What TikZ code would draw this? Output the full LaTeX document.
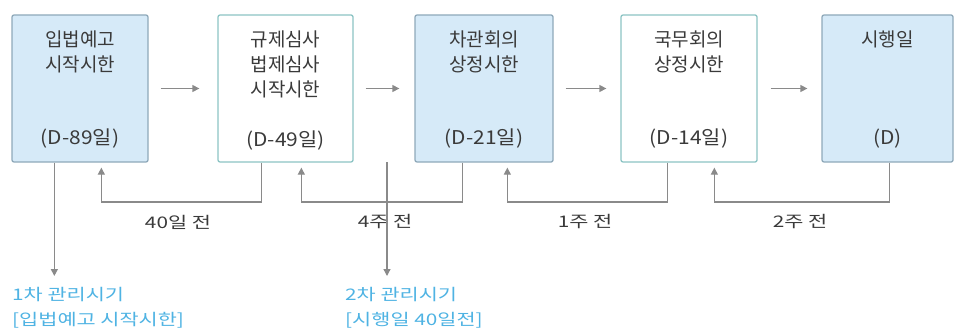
\documentclass[tikz,border=0pt]{standalone}
\usepackage{fontspec}
\setmainfont{Noto Sans CJK KR}
\usetikzlibrary{arrows.meta,positioning,calc}
\definecolor{boxblue}{HTML}{D6EAF8}
\definecolor{edgeblue}{HTML}{8FA9BA}
\definecolor{edgeteal}{HTML}{8CC4C4}
\definecolor{linegray}{HTML}{8A8A8A}
\definecolor{txtgray}{HTML}{3A3A3A}
\definecolor{noteblue}{HTML}{4FB3E3}
\tikzset{
  stagebox/.style={draw, line width=1.3pt, rounded corners=2pt, minimum height=147pt, inner sep=0pt},
  bluebox/.style={stagebox, fill=boxblue, draw=edgeblue},
  whitebox/.style={stagebox, fill=white, draw=edgeteal},
  title/.style={anchor=north, align=center, font=\fontsize{19}{25}\selectfont, text=txtgray, inner sep=0pt},
  days/.style={anchor=center, font=\fontsize{19}{22}\selectfont\addfontfeature{FakeStretch=1.1}, text=txtgray, inner sep=0pt},
  arr/.style={draw=linegray, line width=1.3pt, -{Triangle[length=7pt,width=7pt]}},
  gap/.style={font=\fontsize{16}{18}\selectfont\addfontfeature{FakeStretch=1.3}, text=txtgray, inner sep=0pt},
  note/.style={anchor=north west, align=left, font=\fontsize{16}{25}\selectfont\addfontfeature{FakeStretch=1.3}, text=noteblue, inner sep=0pt}
}
\begin{document}
\begin{tikzpicture}[x=1pt,y=-1pt]
\useasboundingbox (0,0) rectangle (955,334);
% boxes
\node[bluebox, minimum width=136pt] (b1) at (80,88.5) {};
\node[whitebox, minimum width=135pt] (b2) at (285.5,88.5) {};
\node[bluebox, minimum width=138pt] (b3) at (484,88.5) {};
\node[whitebox, minimum width=136pt] (b4) at (689,88.5) {};
\node[bluebox, minimum width=131pt] (b5) at (887.5,88.5) {};
% titles
\node[title] (t1) at ([yshift=-16]b1.north) {입법예고\\시작시한};
\node[title] (t2) at ([yshift=-16]b2.north) {규제심사\\법제심사\\시작시한};
\node[title] (t3) at ([yshift=-16]b3.north) {차관회의\\상정시한};
\node[title] (t4) at ([yshift=-16]b4.north) {국무회의\\상정시한};
\node[title] (t5) at ([yshift=-16]b5.north) {시행일};
% days
\node[days] (d1) at ([yshift=24]b1.south) {(D-89일)};
\node[days] (d2) at ([yshift=22]b2.south) {(D-49일)};
\node[days] (d3) at ([yshift=24]b3.south) {(D-21일)};
\node[days] (d4) at ([yshift=24]b4.south) {(D-14일)};
\node[days] (d5) at ([yshift=24]b5.south) {(D)};
% forward arrows
\draw[arr] ([xshift=12]b1.east) -- ([xshift=-18]b2.west);
\draw[arr] ([xshift=12]b2.east) -- ([xshift=-15]b3.west);
\draw[arr] ([xshift=12]b3.east) -- ([xshift=-14]b4.west);
\draw[arr] ([xshift=13]b4.east) -- ([xshift=-14]b5.west);
% feedback coordinates
\coordinate (f2) at ([xshift=44]b2.south west);
\coordinate (f3) at ([xshift=48]b3.south west);
\coordinate (f4) at ([xshift=47]b4.south west);
\coordinate (f5) at ([xshift=68]b5.south west);
\coordinate (e1) at ([xshift=90,yshift=-5]b1.south west);
\coordinate (e2) at ([xshift=84,yshift=-5]b2.south west);
\coordinate (e3) at ([xshift=93,yshift=-5]b3.south west);
\coordinate (e4) at ([xshift=94,yshift=-5]b4.south west);
\draw[arr] (f2) -- (f2 |- 0,202) -- (e1 |- 0,202) -- (e1);
\draw[arr] (f3) -- (f3 |- 0,202) -- (e2 |- 0,202) -- (e2);
\draw[arr] (f4) -- (f4 |- 0,202) -- (e3 |- 0,202) -- (e3);
\draw[arr] (f5) -- (f5 |- 0,202) -- (e4 |- 0,202) -- (e4);
% gap labels
\node[gap] (g1) at (178,222) {40일 전};
\node[gap] (g2) at (385,222) {4주 전};
\node[gap] (g3) at (585,222) {1주 전};
\node[gap] (g4) at (800,222) {2주 전};
% drops
\coordinate (s1) at ([xshift=43]b1.south west);
\coordinate (s2) at (387,162);
\node[note] (n1) at (12,287) {1차 관리시기\\{[}입법예고 시작시한{]}};
\node[note] (n2) at (345,287) {2차 관리시기\\{[}시행일 40일전{]}};
\draw[arr] (s1) -- (s1 |- 0,276);
\draw[arr] (s2) -- (s2 |- 0,276);
\end{tikzpicture}
\end{document}
